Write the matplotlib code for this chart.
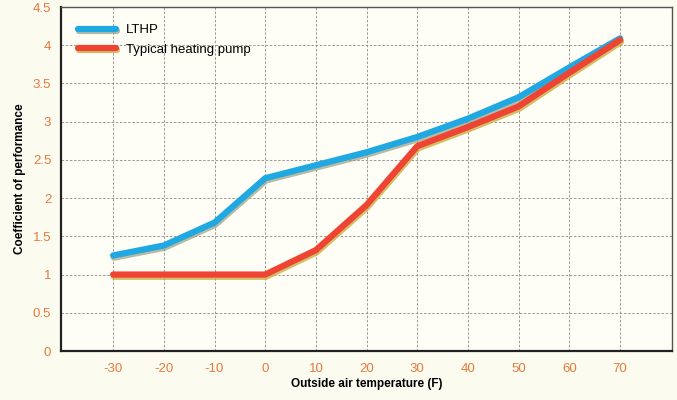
import matplotlib
matplotlib.use("Agg")
import matplotlib.pyplot as plt
import matplotlib.patheffects as pe

temps = [-30, -20, -10, 0, 10, 20, 30, 40, 50, 60, 70]
temp_labels = ['-30', '-20', '-10', '0', '10', '20', '30', '40', '50', '60', '70']
lthp = [1.25, 1.38, 1.68, 2.26, 2.43, 2.60, 2.80, 3.04, 3.32, 3.71, 4.09]
typical = [1.0, 1.0, 1.0, 1.0, 1.32, 1.91, 2.68, 2.93, 3.20, 3.64, 4.07]
yticks = [0, 0.5, 1, 1.5, 2, 2.5, 3, 3.5, 4, 4.5]
ytick_labels = ['0', '0.5', '1', '1.5', '2', '2.5', '3', '3.5', '4', '4.5']

plt.rcParams['font.family'] = ['Liberation Sans', 'DejaVu Sans']
tick_color = '#e8793c'

fig = plt.figure(figsize=(6.77, 4.0), dpi=100, facecolor='#fbfbf0')
ax = fig.add_axes([0.090, 0.1225, 0.903, 0.86], facecolor='#fefef6')

ax.plot(temps, lthp, color='#1fa8e2', lw=4.5, solid_capstyle='round',
        label='LTHP',
        path_effects=[pe.SimpleLineShadow(offset=(0.6, -1.6), shadow_color='#9a9f80', alpha=0.7),
                      pe.Normal()])
ax.plot(temps, typical, color='#ef4433', lw=4.5, solid_capstyle='round',
        label='Typical heating pump',
        path_effects=[pe.SimpleLineShadow(offset=(0.6, -1.6), shadow_color='#c8b040', alpha=0.8),
                      pe.Normal()])

ax.set_xlim(-40.3, 80.3)
ax.set_ylim(0, 4.5)
ax.set_xticks(temps)
ax.set_xticklabels(temp_labels)
ax.set_yticks(yticks)
ax.set_yticklabels(ytick_labels)
ax.tick_params(length=0, colors=tick_color, labelsize=9.5)
ax.tick_params(axis='x', pad=9)
ax.tick_params(axis='y', pad=7)

ax.grid(True, color='#8c8c82', lw=0.6, ls=(0, (3, 2)))
ax.set_axisbelow(True)

for s in ['left', 'bottom']:
    ax.spines[s].set_color('#222222')
    ax.spines[s].set_linewidth(1.6)
for s in ['top', 'right']:
    ax.spines[s].set_color('#555555')
    ax.spines[s].set_linewidth(1.0)

ax.set_xlabel('Outside air temperature (F)', fontsize=8.5, fontweight='bold', labelpad=2)
ax.set_ylabel('Coefficient of performance', fontsize=8.5, fontweight='bold', labelpad=5)

ax.legend(loc='upper left', frameon=False, handlelength=2.9, fontsize=9.5,
          borderaxespad=0.9, labelspacing=0.55, handletextpad=0.7)

fig.savefig('out.png', dpi=100, facecolor=fig.get_facecolor())
